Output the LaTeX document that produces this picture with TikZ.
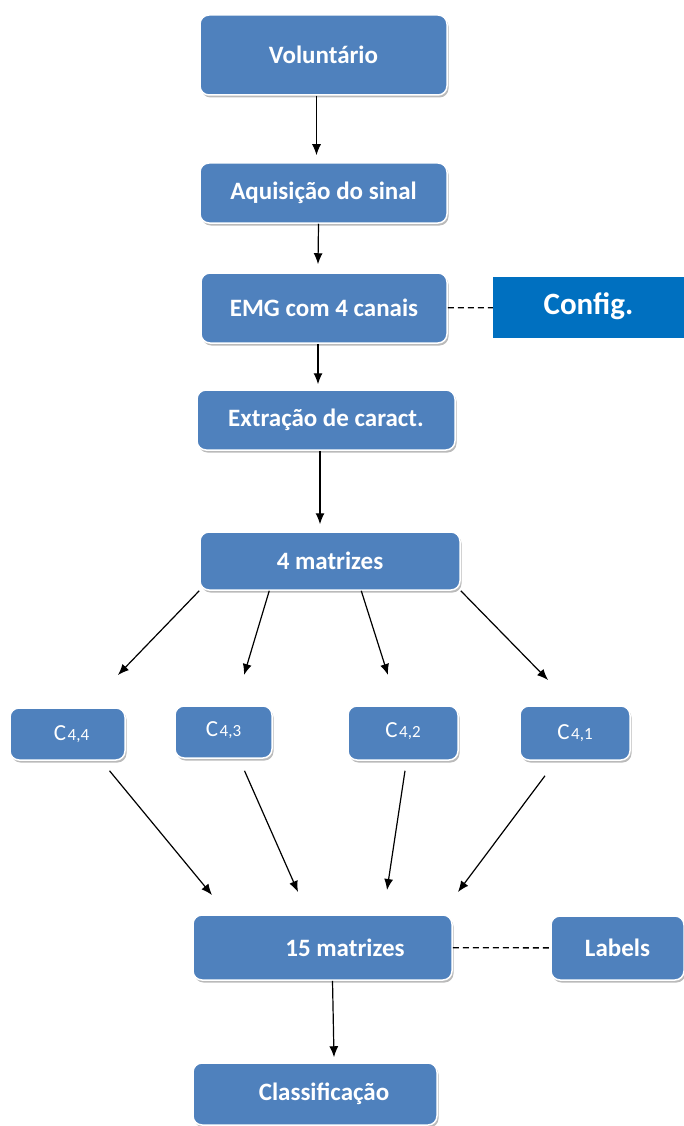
\documentclass[tikz,border=0pt]{standalone}
\usepackage{fontspec}
\setmainfont{Carlito}
\usetikzlibrary{arrows.meta,shadows}
\definecolor{caixaazul}{HTML}{4F81BD}
\definecolor{configazul}{HTML}{0070C0}

\begin{document}
\begin{tikzpicture}[x=1pt,y=-1pt,
	caixa/.style={shape=rectangle,rounded corners=9pt,fill=caixaazul,draw=white,line width=1.5pt,
		text=white,font=\fontsize{25}{30}\selectfont\bfseries,inner sep=0pt,
		drop shadow={shadow xshift=1.5pt,shadow yshift=-2.5pt,fill=black!45,opacity=0.6}},
	cbox/.style={caixa,font=\fontsize{23}{27}\selectfont},
	seta/.style={-{Latex[length=11pt,width=9pt]},line width=1.2pt},
	tracejado/.style={line width=1.3pt,dash pattern=on 6pt off 4pt}]

	\useasboundingbox (0,0) rectangle (684,1126);

	\node[caixa,minimum width=247pt,minimum height=80pt] (vol) at (323.5,55)   {Voluntário};
	\node[caixa,minimum width=247pt,minimum height=60pt] (aqu) at (323.5,193)  {Aquisição do sinal};
	\node[caixa,minimum width=246pt,minimum height=70pt] (emg) at (324,308)    {EMG com 4 canais};
	\node[shape=rectangle,fill=configazul,text=white,inner sep=0pt,font=\fontsize{31}{36}\selectfont\bfseries,
		minimum width=191pt,minimum height=61pt] (cfg) at (588.5,307.5) {\raisebox{8pt}{Config.}};
	\node[caixa,minimum width=258pt,minimum height=60pt] (ext) at (326,420)    {Extração de caract.};
	\node[caixa,minimum width=260pt,minimum height=58pt] (mat4) at (330,561)   {4 matrizes};

	\node[cbox,minimum width=115pt,minimum height=52pt] (c44) at (67.5,734)  {\hspace*{8pt}C\kern1.5pt{\fontsize{17}{18}\selectfont 4,4}};
	\node[cbox,minimum width=97pt,minimum height=52pt]  (c43) at (223.5,732) {\raisebox{5pt}{C\kern1.5pt{\fontsize{17}{18}\selectfont 4,3}}};
	\node[cbox,minimum width=110pt,minimum height=54pt] (c42) at (403,733)   {\raisebox{5pt}{C\kern1.5pt{\fontsize{17}{18}\selectfont 4,2}}};
	\node[cbox,minimum width=110pt,minimum height=54pt] (c41) at (575,733)   {C\kern1.5pt{\fontsize{17}{18}\selectfont 4,1}};

	\node[caixa,minimum width=259pt,minimum height=65pt] (mat15) at (322.5,947.5) {\hspace*{45pt}15 matrizes};
	\node[caixa,minimum width=133pt,minimum height=64pt] (lab) at (617.5,948)      {Labels};
	\node[caixa,minimum width=244pt,minimum height=62pt] (cla) at (315,1094)       {\hspace*{18pt}Classificação};

	\coordinate (a1) at (118,675);
	\coordinate (a2) at (244,675);
	\coordinate (a3) at (388,675);
	\coordinate (a4) at (548,680);
	\coordinate (b1) at (212,895);
	\coordinate (b2) at (298,892);
	\coordinate (b3) at (387,890);
	\coordinate (b4) at (458,892);

	\path[seta] ([xshift=-7pt]vol.south) edge ([xshift=-7pt,yshift=7pt]aqu.north);
	\path[seta] ([xshift=-5pt]aqu.south) edge ([xshift=-6pt,yshift=8pt]emg.north);
	\path[seta] ([xshift=-6pt]emg.south) edge ([xshift=-8pt,yshift=5pt]ext.north);
	\path[seta] ([xshift=-6pt]ext.south) edge ([xshift=-10pt,yshift=7pt]mat4.north);

	\path[seta] (mat4.south west) edge (a1);
	\path[seta] ([xshift=70pt]mat4.south west) edge (a2);
	\path[seta] ([xshift=162pt]mat4.south west) edge (a3);
	\path[seta] (mat4.south east) edge (a4);

	\path[seta] ([xshift=42pt,yshift=-10pt]c44.south) edge (b1);
	\path[seta] ([xshift=21pt,yshift=-12pt]c43.south) edge (b2);
	\path[seta] ([xshift=2pt,yshift=-10pt]c42.south) edge (b3);
	\path[seta] ([xshift=-30pt,yshift=-15pt]c41.south) edge (b4);

	\path[seta] ([xshift=10pt]mat15.south) edge ([xshift=19pt,yshift=5pt]cla.north);

	\path[tracejado] (emg) edge (cfg);
	\path[tracejado] (mat15) edge (lab);

\end{tikzpicture}
\end{document}
